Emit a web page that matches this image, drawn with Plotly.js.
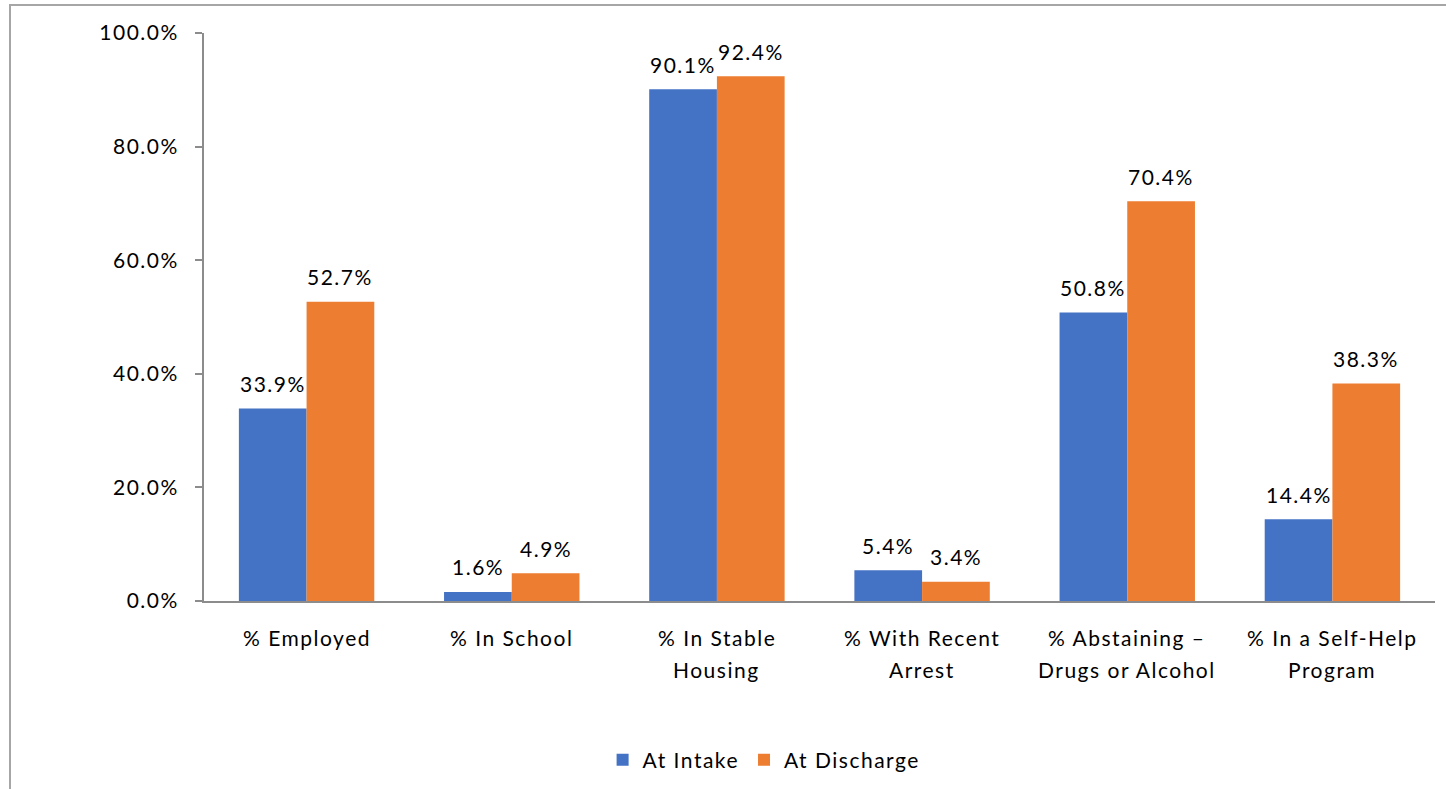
<!DOCTYPE html>
<html><head><meta charset="utf-8">
<script src="https://cdn.plot.ly/plotly-3.0.1.min.js"></script>
<style>
html,body{margin:0;padding:0;background:#fff;overflow:hidden;}
#chart{width:1446px;height:789px;}
text{letter-spacing:1.5px;}
#frame{position:absolute;left:9px;top:4px;width:1450px;height:800px;border-left:2px solid #a6a6a6;border-top:2px solid #a6a6a6;pointer-events:none;}
</style></head>
<body>
<div id="chart"></div>
<div id="frame"></div>
<script>
const categories = ["% Employed", "% In School", "% In Stable Housing", "% With Recent Arrest", "% Abstaining – Drugs or Alcohol", "% In a Self-Help Program"];
const labelLine1 = ["% Employed", "% In School", "% In Stable", "% With Recent", "% Abstaining –", "% In a Self-Help"];
const labelLine2 = ["", "", "Housing", "Arrest", "Drugs or Alcohol", "Program"];
const intake = [33.9, 1.6, 90.1, 5.4, 50.8, 14.4];
const discharge = [52.7, 4.9, 92.4, 3.4, 70.4, 38.3];
const yTicks = [0, 20, 40, 60, 80, 100];

const font = {family: "Lato, 'Open Sans', sans-serif", size: 21, color: "#000"};
const bargap = 0.34;
const half = (1 - bargap) / 4;

const traces = [
  {type: "bar", name: "At Intake", x: categories, y: intake, marker: {color: "#4472C4"}},
  {type: "bar", name: "At Discharge", x: categories, y: discharge, marker: {color: "#ED7D31"}}
];

const annotations = [];
categories.forEach((c, i) => {
  annotations.push({x: i - half, y: intake[i], xref: "x", yref: "y", text: intake[i].toFixed(1) + "%", showarrow: false, yanchor: "middle", yshift: 25, font: font});
  annotations.push({x: i + half, y: discharge[i], xref: "x", yref: "y", text: discharge[i].toFixed(1) + "%", showarrow: false, yanchor: "middle", yshift: 25, font: font});
  annotations.push({x: i, y: 0, xref: "x", yref: "paper", text: labelLine1[i], showarrow: false, yanchor: "middle", yshift: -36, font: font});
  if (labelLine2[i]) annotations.push({x: i, y: 0, xref: "x", yref: "paper", text: labelLine2[i], showarrow: false, yanchor: "middle", yshift: -68, font: font});
});

const layout = {
  width: 1446, height: 789,
  margin: {l: 204, r: 11, t: 33, b: 188, autoexpand: false},
  paper_bgcolor: "#fff", plot_bgcolor: "#fff",
  font: font,
  barmode: "group", bargap: bargap, bargroupgap: 0,
  showlegend: true,
  legend: {orientation: "h", x: 0.455, xanchor: "center", y: -0.28, yanchor: "middle", font: font, traceorder: "normal", itemwidth: 30},
  annotations: annotations,
  xaxis: {showline: true, linecolor: "#8c8c8c", linewidth: 2, ticks: "", showticklabels: false, showgrid: false, zeroline: false, fixedrange: true, automargin: false},
  yaxis: {range: [0, 100], tickvals: yTicks, ticktext: yTicks.map(v => v.toFixed(1) + "%"), showline: true, linecolor: "#8c8c8c", linewidth: 2,
          ticks: "outside", ticklen: 7, tickcolor: "#8c8c8c", tickwidth: 2, showgrid: false, zeroline: false, tickfont: font, ticklabelstandoff: 12, automargin: false}
};
Plotly.newPlot("chart", traces, layout, {displayModeBar: false, staticPlot: true});
</script>
</body></html>
